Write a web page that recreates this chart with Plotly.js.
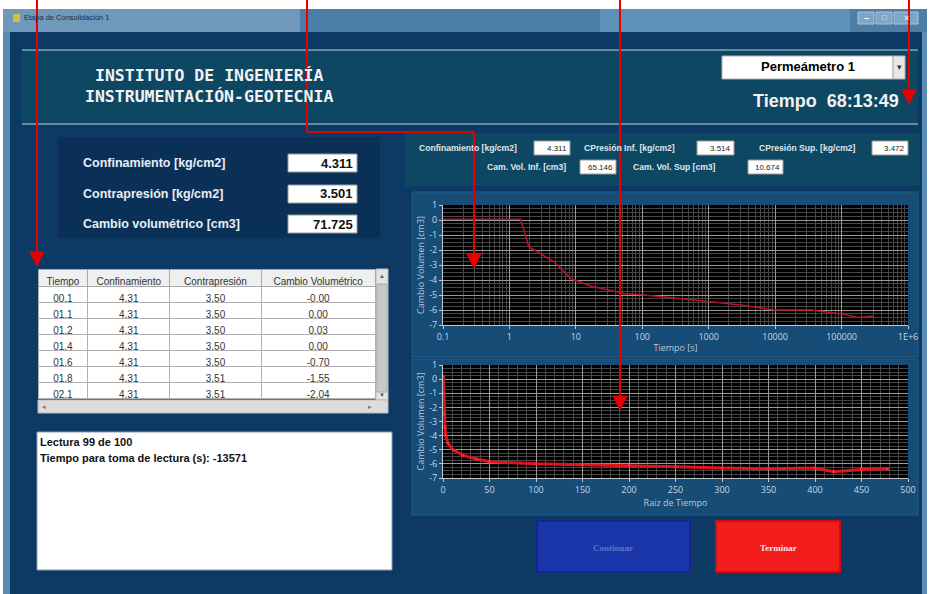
<!DOCTYPE html>
<html>
<head>
<meta charset="utf-8">
<script src="https://cdn.plot.ly/plotly-3.0.1.min.js"></script>
<style>html,body{margin:0;padding:0;background:#fff;}#chart{width:930px;height:594px;}</style>
</head>
<body>
<div id="chart"></div>
<script>
// ---------- DATA ----------
// Chart 1: volume change vs time (log scale)
const tiempo1 = [0.1, 0.2, 0.5, 1, 1.47, 1.96, 2.6, 4.7, 8.4, 10.5, 16.7, 33.6, 53, 107, 340, 1090, 3450, 9800, 35000, 70000, 112000, 178000, 300000];
const cambio1 = [0.05, 0.05, 0.05, 0.05, 0.05, -1.8, -2.1, -2.8, -3.9, -4.07, -4.4, -4.7, -4.9, -5.0, -5.2, -5.45, -5.7, -6.0, -6.0, -6.2, -6.3, -6.5, -6.4];
// Chart 2: volume change vs square root of time
const raiz2 = [0.3, 0.8, 1.4, 2.2, 2.9, 5.4, 10.8, 21.6, 36, 50, 100, 150, 200, 250, 300, 350, 400, 420, 450, 478];
const cambio2 = [0.2, -1.0, -2.5, -3.4, -4.0, -4.55, -5.0, -5.4, -5.65, -5.85, -6.0, -6.05, -6.1, -6.2, -6.3, -6.35, -6.3, -6.55, -6.4, -6.35];
// Table
const colHeaders = ['Tiempo', 'Confinamiento', 'Contrapresión', 'Cambio Volumétrico'];
const colTiempo = ['00.1', '01.1', '01.2', '01.4', '01.6', '01.8', '02.1'];
const colConfin = ['4.31', '4.31', '4.31', '4.31', '4.31', '4.31', '4.31'];
const colContra = ['3.50', '3.50', '3.50', '3.50', '3.50', '3.51', '3.51'];
const colCambio = ['-0.00', '0.00', '0.03', '0.00', '-0.70', '-1.55', '-2.04'];
// Indicators
const leftLabels = ['Confinamiento [kg/cm2]', 'Contrapresión [kg/cm2]', 'Cambio volumétrico [cm3]'];
const leftValues = ['4.311', '3.501', '71.725'];
const topLabels = ['Confinamiento [kg/cm2]', 'CPresión Inf. [kg/cm2]', 'CPresión Sup. [kg/cm2]', 'Cam. Vol. Inf. [cm3]', 'Cam. Vol. Sup [cm3]'];
const topValues = ['4.311', '3.514', '3.472', '65.146', '10.674'];
const yTicks = [1, 0, -1, -2, -3, -4, -5, -6, -7];
const yTickText = ['1', '0', '-1', '-2', '-3', '-4', '-5', '-6', '-7'];
const xLogTicks = [0.1, 1, 10, 100, 1000, 10000, 100000, 1000000];
const xLogText = ['0.1', '1', '10', '100', '1000', '10000', '100000', '1E+6'];

// ---------- helpers ----------
const W = 930, H = 594;
const px = x => x / W, py = y => 1 - y / H;
const shapes = [], ann = [];
function rect(x0, y0, x1, y1, fill, line, lw, layer) {
  shapes.push({type: 'rect', xref: 'paper', yref: 'paper', x0: px(x0), x1: px(x1), y0: py(y1), y1: py(y0),
    fillcolor: fill, line: {color: line || 'rgba(0,0,0,0)', width: lw || 0}, layer: layer || 'below'});
}
function hline(x0, x1, y, color, w, layer) {
  shapes.push({type: 'line', xref: 'paper', yref: 'paper', x0: px(x0), x1: px(x1), y0: py(y), y1: py(y),
    line: {color: color, width: w}, layer: layer || 'below'});
}
function vline(x, y0, y1, color, w, layer) {
  shapes.push({type: 'line', xref: 'paper', yref: 'paper', x0: px(x), x1: px(x), y0: py(y0), y1: py(y1),
    line: {color: color, width: w}, layer: layer || 'below'});
}
function txt(x, y, text, size, color, anchor, bold, family) {
  ann.push({xref: 'paper', yref: 'paper', x: px(x), y: py(y), text: bold ? '<b>' + text + '</b>' : text,
    showarrow: false, xanchor: anchor || 'left', yanchor: 'middle',
    font: {size: size, color: color, family: family || 'Liberation Sans, Arial, sans-serif'}, borderpad: 0});
}
function arrowDown(x, yTip) {
  shapes.push({type: 'path', xref: 'paper', yref: 'paper', layer: 'above',
    path: 'M ' + px(x - 7) + ' ' + py(yTip - 14) + ' L ' + px(x + 7) + ' ' + py(yTip - 14) + ' L ' + px(x) + ' ' + py(yTip) + ' Z',
    fillcolor: '#e60000', line: {color: '#e60000', width: 1}});
}

// ---------- window chrome ----------
rect(0, 0, 930, 594, '#ffffff');
rect(3, 9, 927, 594, '#5b8bb5');            // outer frame
rect(3, 9, 927, 32, '#4d7ea8');             // title bar
rect(3, 9, 300, 32, '#6f98bb');
rect(600, 9, 850, 32, '#5f90b8');
rect(10, 32, 922, 594, '#0c3a64');          // client area
rect(13, 14, 20, 22, '#c9c23a');
txt(23, 18, 'Etapa de Consolidación 1', 7.5, '#1d2e44');
rect(858, 12, 874, 24, '#7ea6c8', '#a9c4da', 1);
rect(876, 12, 892, 24, '#7ea6c8', '#a9c4da', 1);
rect(894, 12, 918, 24, '#7ea6c8', '#a9c4da', 1);
txt(866, 18, '–', 9, '#ffffff', 'center', true);
txt(884, 18, '□', 8, '#ffffff', 'center');
txt(906, 18, '×', 9, '#ffffff', 'center');

// header panel
rect(22, 50, 918, 124, '#0e4762');
hline(22, 918, 50, '#7fa3bb', 1.5);
hline(22, 918, 124, '#7fa3bb', 1.5);
txt(209, 76, 'INSTITUTO DE INGENIERÍA', 16.5, '#f2f2f2', 'center', true, 'DejaVu Sans Mono, monospace');
txt(209, 96, 'INSTRUMENTACIÓN-GEOTECNIA', 16.5, '#f2f2f2', 'center', true, 'DejaVu Sans Mono, monospace');
rect(722, 56, 893, 79, '#ffffff', '#b0b0b0', 1);
rect(893, 56, 905, 79, '#e6e6e6', '#b0b0b0', 1);
txt(899, 67, '▾', 9, '#333', 'center');
txt(808, 67, 'Permeámetro 1', 13, '#000000', 'center', true);
txt(900, 101, 'Tiempo  68:13:49', 18, '#f2f2f2', 'right', true);

// left indicator panel
rect(58, 137, 380, 238, '#0b3058');
const leftY = [163, 194, 224];
for (let i = 0; i < leftLabels.length; i++) {
  txt(82, leftY[i], leftLabels[i], 12.5, '#e8eef5', 'left', true);
  rect(288, leftY[i] - 9, 357, leftY[i] + 9, '#ffffff', '#9a9a9a', 1);
  txt(354, leftY[i], leftValues[i], 13, '#111', 'right', true);
}

// top right indicator panel
rect(405, 133, 920, 186, '#0e4762');
const topPos = [[418, 148, 534, 570], [583, 148, 697, 734], [758, 148, 872, 908], [486, 167, 580, 616], [632, 167, 748, 783]];
for (let i = 0; i < topLabels.length; i++) {
  const p = topPos[i];
  txt(p[0], p[1], topLabels[i], 8.6, '#dfe7f0', 'left', true);
  rect(p[2], p[1] - 7, p[3], p[1] + 7, '#ffffff', '#9a9a9a', 1);
  txt(p[3] - 2, p[1], topValues[i], 8, '#222', 'right');
}

// chart panels and plot backgrounds
rect(412, 192, 918, 357, '#164c76', '#1f5c88', 1);
rect(412, 359, 918, 515, '#164c76', '#1f5c88', 1);
rect(443, 205, 908, 325, '#000000');
rect(443, 365, 908, 478, '#000000');

// table scrollbars
rect(376, 269, 388, 400, '#e4e4e4', '#bbbbbb', 1);
rect(377, 284, 387, 392, '#c9c9c9', '#aaaaaa', 1);
txt(382, 276, '▲', 6, '#555', 'center');
txt(382, 395, '▼', 6, '#555', 'center');
rect(38, 400, 388, 413, '#dcdcdc', '#bbbbbb', 1);
txt(44, 406, '◂', 7, '#777', 'center');
txt(370, 406, '▸', 7, '#777', 'center');

// message box
rect(37, 432, 392, 570, '#ffffff', '#8a9bb0', 1);
txt(39, 442, 'Lectura 99 de 100', 11, '#111', 'left', true);
txt(39, 458, 'Tiempo para toma de lectura (s): -13571', 11, '#111', 'left', true);

// buttons
rect(537, 521, 690, 572, '#1b36aa', '#13288a', 2);
txt(613, 548, 'Continuar', 9, '#5d74cc', 'center', true, 'Liberation Serif, serif');
rect(716, 521, 840, 572, '#f21c1c', '#c81010', 2);
txt(778, 548, 'Terminar', 9, '#ffe3e3', 'center', true, 'Liberation Serif, serif');

// red pointer arrows (document overlay)
const red = '#e60000';
vline(37, 0, 254, red, 2, 'above'); arrowDown(37, 266);
vline(307, 0, 132, red, 2, 'above');
hline(307, 474, 132, red, 2, 'above');
vline(474, 132, 256, red, 2, 'above'); arrowDown(474, 268);
vline(620, 0, 398, red, 2, 'above'); arrowDown(620, 410);
vline(909, 0, 92, red, 2, 'above'); arrowDown(909, 104);

// ---------- traces ----------
const traces = [
  {type: 'scatter', mode: 'lines', x: tiempo1, y: cambio1, xaxis: 'x', yaxis: 'y',
   line: {color: '#b3142a', width: 1.6}, hoverinfo: 'skip'},
  {type: 'scatter', mode: 'lines+markers', x: raiz2, y: cambio2, xaxis: 'x2', yaxis: 'y2',
   line: {color: '#e0141c', width: 3}, marker: {size: 3, color: '#ff2a2a'}, hoverinfo: 'skip'},
  {type: 'table', domain: {x: [px(38), px(376)], y: [py(400), py(269)]},
   columnwidth: [50, 82, 92, 114],
   header: {values: colHeaders, align: 'center', height: 17, fill: {color: '#efefef'},
     line: {color: '#a8a8a8', width: 1}, font: {size: 10, color: '#333', family: 'Liberation Sans, Arial'}},
   cells: {values: [colTiempo, colConfin, colContra, colCambio], align: 'center', height: 16,
     fill: {color: '#ffffff'}, line: {color: '#b0b0b0', width: 1},
     font: {size: 10, color: '#333', family: 'Liberation Sans, Arial'}}}
];

const axFont = {size: 9, color: '#c8d6e4', family: 'Open Sans, Liberation Sans, sans-serif'};
function yax(domain, anchor) {
  return {domain: domain, anchor: anchor, range: [-7, 1], tickvals: yTicks, ticktext: yTickText,
    showgrid: true, gridcolor: '#9a9a9a', gridwidth: 1, zeroline: false,
    minor: {showgrid: true, gridcolor: '#474747', dtick: 0.25, ticks: ''},
    showline: true, linecolor: '#c0c8d0', mirror: false, ticks: 'outside', ticklen: 3, tickcolor: '#c0c8d0',
    tickfont: axFont, fixedrange: true,
    title: {text: 'Cambio Volumen [cm3]', font: {size: 9, color: '#b8c8d8', family: axFont.family}, standoff: 3}};
}
const layout = {
  width: W, height: H, margin: {l: 0, r: 0, t: 0, b: 0}, showlegend: false,
  paper_bgcolor: '#ffffff', plot_bgcolor: 'rgba(0,0,0,0)',
  xaxis: {type: 'log', domain: [px(443), px(908)], anchor: 'y', range: [-1, 6],
    tickvals: xLogTicks, ticktext: xLogText, showgrid: true, gridcolor: '#9a9a9a', zeroline: false,
    minor: {showgrid: true, gridcolor: '#474747', dtick: 'D1', ticks: ''},
    showline: true, linecolor: '#c0c8d0', ticks: 'outside', ticklen: 3, tickcolor: '#c0c8d0',
    tickfont: axFont, fixedrange: true,
    title: {text: 'Tiempo [s]', font: {size: 9, color: '#b8c8d8', family: axFont.family}, standoff: 2}},
  yaxis: yax([py(325), py(205)], 'x'),
  xaxis2: {domain: [px(443), px(908)], anchor: 'y2', range: [0, 500], dtick: 50, tick0: 0,
    showgrid: true, gridcolor: '#9a9a9a', zeroline: false,
    minor: {showgrid: true, gridcolor: '#474747', dtick: 10, ticks: ''},
    showline: true, linecolor: '#c0c8d0', ticks: 'outside', ticklen: 3, tickcolor: '#c0c8d0',
    tickfont: axFont, fixedrange: true,
    title: {text: 'Raiz de Tiempo', font: {size: 9, color: '#b8c8d8', family: axFont.family}, standoff: 2}},
  yaxis2: yax([py(478), py(365)], 'x2'),
  shapes: shapes, annotations: ann
};
Plotly.newPlot('chart', traces, layout, {displayModeBar: false, staticPlot: true});
</script>
</body>
</html>
